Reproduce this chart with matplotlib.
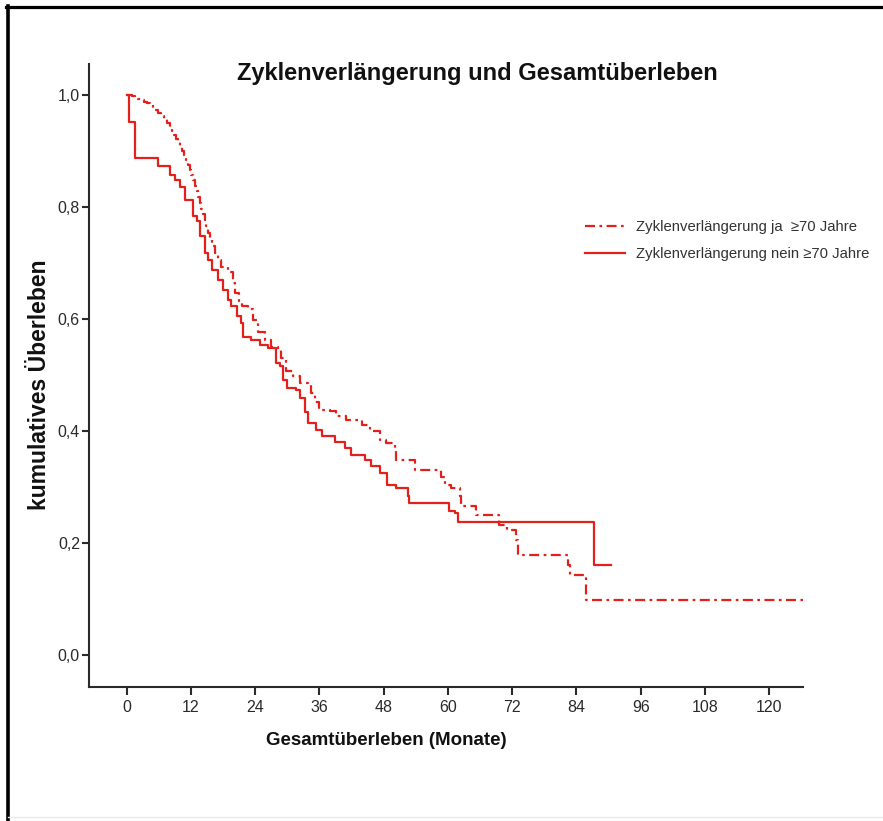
"""
Kaplan-Meier Kurven: Gesamtueberleben bei Zyklenverlaengerung (>=70 Jahre).
Saves the figure as out.png.
"""

import matplotlib

matplotlib.use("Agg")
import matplotlib.pyplot as plt
from matplotlib.lines import Line2D

plt.rcParams["font.family"] = ["Liberation Sans", "DejaVu Sans"]

# Zyklenverlaengerung ja (dash-dot): Monate / kumulatives Ueberleben
ja_months = [0.0, 1.0, 1.6, 2.2, 2.7, 3.3, 3.8, 4.4, 4.9, 5.4, 5.9, 6.4,
             7.0, 7.5, 8.1, 8.5, 8.9, 9.3, 9.6, 10.0, 10.4, 10.8, 11.2,
             11.5, 11.8, 12.1, 12.4, 12.8, 13.1, 13.4, 13.7, 14.0, 14.3,
             14.6, 14.9, 15.2, 15.6, 16.0, 16.5, 17.1, 17.7, 18.9, 19.9,
             20.3, 21.0, 21.5, 22.6, 23.6, 24.5, 25.8, 27.0, 28.2, 28.9,
             29.8, 31.0, 32.3, 33.8, 34.5, 35.1, 36.0, 37.9, 39.2, 41.0,
             44.0, 45.5, 47.3, 48.5, 50.1, 50.4, 53.8, 58.7, 59.4, 60.6,
             62.3, 62.5, 65.3, 69.6, 71.1, 72.7, 73.0, 82.5, 82.8, 85.8,
             126.6]
ja_surv = [1.0, 0.998, 0.995, 0.993, 0.99, 0.988, 0.985, 0.981, 0.977,
           0.973, 0.968, 0.962, 0.956, 0.95, 0.943, 0.936, 0.928, 0.921,
           0.916, 0.908, 0.9, 0.892, 0.884, 0.875, 0.866, 0.857, 0.848,
           0.838, 0.828, 0.818, 0.807, 0.797, 0.787, 0.777, 0.766, 0.754,
           0.741, 0.73, 0.718, 0.705, 0.693, 0.684, 0.664, 0.646, 0.632,
           0.622, 0.618, 0.598, 0.577, 0.5625, 0.55, 0.545, 0.53, 0.506,
           0.497, 0.486, 0.482, 0.468, 0.452, 0.4375, 0.4345, 0.4256, 0.42,
           0.41, 0.40, 0.384, 0.378, 0.366, 0.348, 0.33, 0.318, 0.304,
           0.298, 0.283, 0.265, 0.25, 0.232, 0.223, 0.205, 0.179, 0.16,
           0.143, 0.097, 0.095]

# Zyklenverlaengerung nein (solid)
nein_months = [0.0, 0.5, 1.6, 5.9, 8.1, 9.0, 10.0, 10.9, 12.4, 13.2, 13.7,
               14.6, 15.2, 15.9, 17.0, 18.0, 18.9, 19.6, 20.6, 21.3, 21.7,
               23.3, 24.9, 26.4, 28.0, 28.6, 29.2, 29.9, 31.7, 32.3, 33.3,
               33.9, 35.4, 36.5, 39.0, 40.7, 42.0, 44.5, 45.7, 47.3, 48.6,
               50.4, 52.5, 52.8, 60.3, 61.3, 61.8, 87.3, 90.4]
nein_surv = [1.0, 0.952, 0.887, 0.873, 0.857, 0.848, 0.836, 0.812, 0.783,
             0.775, 0.747, 0.718, 0.705, 0.688, 0.67, 0.652, 0.634, 0.622,
             0.605, 0.593, 0.568, 0.5625, 0.554, 0.548, 0.521, 0.515, 0.491,
             0.477, 0.472, 0.459, 0.434, 0.414, 0.402, 0.39, 0.38, 0.37,
             0.357, 0.348, 0.3375, 0.325, 0.304, 0.298, 0.283, 0.271, 0.256,
             0.2535, 0.237, 0.16, 0.16]

x_ticks = [0, 12, 24, 36, 48, 60, 72, 84, 96, 108, 120]
y_ticks = [0.0, 0.2, 0.4, 0.6, 0.8, 1.0]
y_tick_labels = ["0,0", "0,2", "0,4", "0,6", "0,8", "1,0"]

labels = ["Zyklenverlängerung ja  \u226570 Jahre",
          "Zyklenverlängerung nein \u226570 Jahre"]

RED = "#e3201c"
AXIS = "#2a2a2a"


def main() -> None:
    fig = plt.figure(figsize=(8.83, 8.21), dpi=100)
    ax = fig.add_axes([0.1008, 0.1636, 0.8086, 0.7584])

    ja_line, = ax.step(ja_months, ja_surv, where="post", color=RED,
                       lw=1.6, label=labels[0])
    ja_line.set_dashes([4.5, 2.0, 1.2, 2.0])
    ax.step(nein_months, nein_surv, where="post", color=RED, lw=1.6,
            label=labels[1])

    ax.set_xlim(-7.0, 126.3)
    ax.set_ylim(-0.057, 1.055)
    ax.set_xticks(x_ticks)
    ax.set_yticks(y_ticks)
    ax.set_yticklabels(y_tick_labels)

    for side in ("top", "right"):
        ax.spines[side].set_visible(False)
    for side in ("left", "bottom"):
        ax.spines[side].set_color(AXIS)
        ax.spines[side].set_linewidth(1.5)
    ax.tick_params(axis="x", direction="out", length=6, width=1.5,
                   pad=3.5, labelsize=11.5, colors=AXIS)
    ax.tick_params(axis="y", direction="out", length=5, width=1.5,
                   pad=1.5, labelsize=11.5, colors=AXIS)

    fig.text(0.5408, 0.911, "Zyklenverlängerung und Gesamtüberleben",
             ha="center", va="center", fontsize=17, fontweight="bold",
             color="#111111")
    fig.text(0.4377, 0.0975, "Gesamtüberleben (Monate)", ha="center",
             va="center", fontsize=13.5, fontweight="bold", color="#111111")
    fig.text(0.0453, 0.531, "kumulatives Überleben", ha="center",
             va="center", rotation=90, fontsize=16.5, fontweight="bold",
             color="#111111")

    fig.legend(loc="upper left", bbox_to_anchor=(0.6625, 0.7315),
               frameon=False, fontsize=10.7, handlelength=2.7,
               handletextpad=0.7, labelspacing=0.85, borderpad=0,
               borderaxespad=0, labelcolor="#333333")

    # black frame on top and left edge, faint line at the bottom
    fig.add_artist(Line2D([6 / 883, 1.0], [1 - 7.5 / 821, 1 - 7.5 / 821],
                          transform=fig.transFigure, color="black", lw=2.3))
    fig.add_artist(Line2D([8 / 883, 8 / 883], [0.0, 1 - 6 / 821],
                          transform=fig.transFigure, color="black", lw=2.6))
    fig.add_artist(Line2D([8 / 883, 1.0], [4 / 821, 4 / 821],
                          transform=fig.transFigure, color="#e8e8e8", lw=1))

    fig.savefig("out.png", dpi=100)
    plt.close(fig)


if __name__ == "__main__":
    main()
